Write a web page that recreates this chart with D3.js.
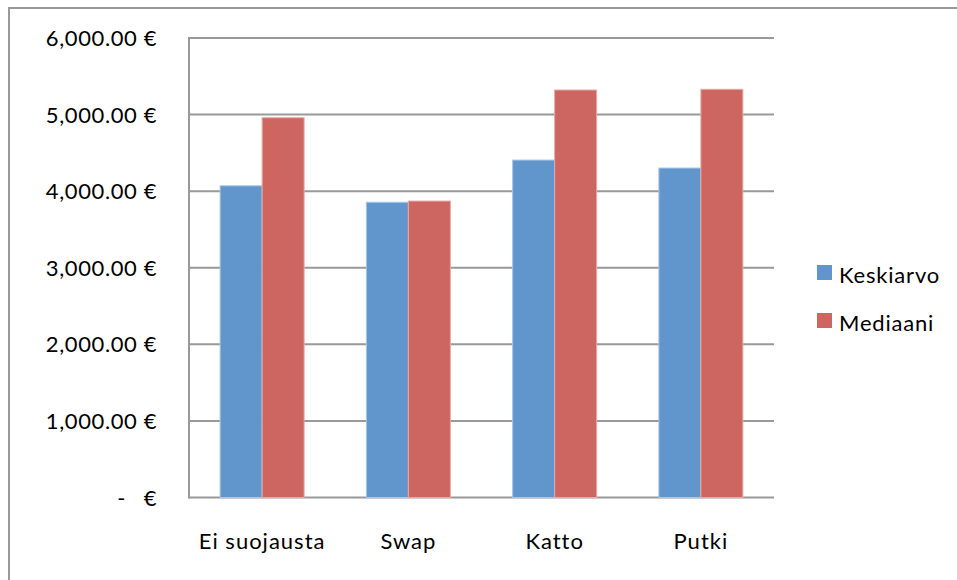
<!DOCTYPE html>
<html>
<head>
<meta charset="utf-8">
<script src="https://cdn.jsdelivr.net/npm/d3@7"></script>
<style>
  html, body { margin: 0; padding: 0; background: #fff; }
  svg text { font-family: Lato, "Open Sans", sans-serif; fill: #000; }
</style>
</head>
<body>
<svg id="chart" width="957" height="580"></svg>
<script>
// Categories, series and y-axis ticks
const categories = ["Ei suojausta", "Swap", "Katto", "Putki"];
const seriesNames = ["Keskiarvo", "Mediaani"];
const keskiarvo = [4070, 3855, 4406, 4302];
const mediaani = [4959, 3871, 5321, 5330];
const yTicks = [0, 1000, 2000, 3000, 4000, 5000, 6000];
const seriesColors = ["#6096CB", "#CD6660"];

const svg = d3.select("#chart");
const W = 957, H = 580;
const plot = { left: 189, right: 774, top: 38, bottom: 497.5 };
const fontSize = 22;

// outer chart border (extends past the right/bottom edge)
svg.append("rect")
  .attr("x", 9).attr("y", 8)
  .attr("width", W + 10).attr("height", H + 10)
  .attr("fill", "#fff").attr("stroke", "#999").attr("stroke-width", 2);

const y = d3.scaleLinear().domain([0, 6000]).range([plot.bottom, plot.top]);
const x0 = d3.scaleBand().domain(categories).range([plot.left, plot.right])
  .paddingInner(0.4256).paddingOuter(0.2128);
const x1 = d3.scaleBand().domain(seriesNames).range([0, x0.bandwidth()]);

// gridlines
svg.append("g")
  .selectAll("line").data(yTicks).join("line")
  .attr("x1", plot.left).attr("x2", plot.right)
  .attr("y1", d => y(d)).attr("y2", d => y(d))
  .attr("stroke", "#999").attr("stroke-width", 2);

// y axis line
svg.append("line")
  .attr("x1", plot.left).attr("x2", plot.left)
  .attr("y1", plot.top - 1).attr("y2", plot.bottom + 1)
  .attr("stroke", "#999").attr("stroke-width", 2);

// y tick labels in accounting style
const fmt = d3.format(",.2f");
const yLab = svg.append("g")
  .attr("font-size", fontSize).attr("letter-spacing", 0.6);
yTicks.forEach(t => {
  if (t === 0) {
    yLab.append("text").attr("x", 126).attr("y", y(t) + 8)
      .attr("text-anchor", "end").text("-");
    yLab.append("text").attr("x", 157).attr("y", y(t) + 8)
      .attr("text-anchor", "end").text("€");
  } else {
    yLab.append("text").attr("x", 157).attr("y", y(t) + 8)
      .attr("text-anchor", "end").text(fmt(t) + " €");
  }
});

// bars
const rows = categories.map((c, i) => ({ cat: c, vals: [keskiarvo[i], mediaani[i]] }));
const groups = svg.append("g").selectAll("g").data(rows).join("g")
  .attr("transform", d => `translate(${x0(d.cat)},0)`);
groups.selectAll("rect")
  .data(d => d.vals.map((v, j) => ({ name: seriesNames[j], v, j })))
  .join("rect")
  .attr("x", d => x1(d.name))
  .attr("y", d => y(d.v))
  .attr("width", x1.bandwidth())
  .attr("height", d => y(0) - y(d.v))
  .attr("fill", d => seriesColors[d.j])
  .attr("stroke", d => d.j === 0 ? "#A9C4E4" : "#E8A9A6")
  .attr("stroke-width", 1);

// x category labels
svg.append("g").selectAll("text").data(categories).join("text")
  .attr("x", d => x0(d) + x0.bandwidth() / 2)
  .attr("y", 549)
  .attr("text-anchor", "middle")
  .attr("font-size", fontSize)
  .attr("letter-spacing", 1)
  .text(d => d);

// legend
const legend = svg.append("g");
seriesNames.forEach((n, i) => {
  const ly = 265 + i * 48;
  legend.append("rect").attr("x", 817).attr("y", ly)
    .attr("width", 15).attr("height", 15).attr("fill", seriesColors[i]);
  legend.append("text").attr("x", 839).attr("y", ly + 18)
    .attr("font-size", fontSize).attr("letter-spacing", 0.8).text(n);
});
</script>
</body>
</html>
